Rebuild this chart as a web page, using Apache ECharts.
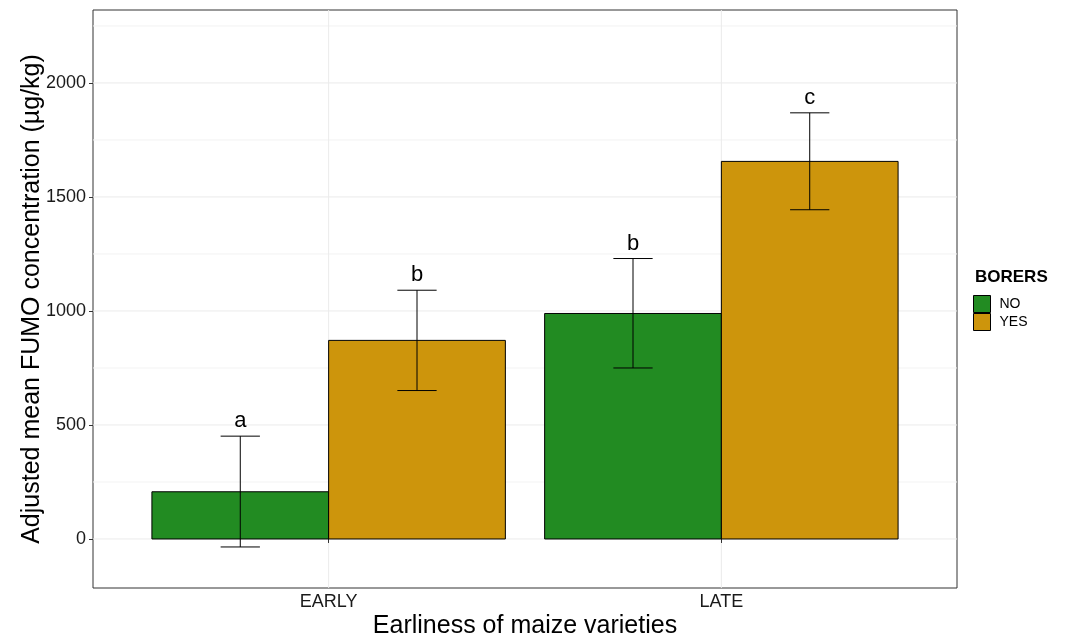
<!DOCTYPE html>
<html>
<head>
<meta charset="utf-8">
<title>FUMO concentration by earliness and borers</title>
<script src="https://cdn.jsdelivr.net/npm/echarts@6/dist/echarts.min.js"></script>
<style>
  html, body { margin: 0; padding: 0; background: #ffffff; }
  #chart { width: 1069px; height: 637px; }
</style>
</head>
<body>
<div id="chart"></div>
<script>
// Categories and groups
const categories = ['EARLY', 'LATE'];
const groups = ['NO', 'YES'];

// Adjusted means (µg/kg) per category, one array per borer group
const meanNO = [207, 989];
const meanYES = [871, 1656];

// Error bar limits
const lowerNO = [-35, 750];
const upperNO = [451, 1230];
const lowerYES = [651, 1444];
const upperYES = [1091, 1869];

// Significance letters
const lettersNO = ['a', 'b'];
const lettersYES = ['b', 'c'];

// Axis ticks
const yTicks = [0, 500, 1000, 1500, 2000];
const yMinorTicks = [250, 750, 1250, 1750, 2250];
const xTicks = [1, 2];

const colors = { NO: '#228B22', YES: '#CD950C' };
const FONT = '"Liberation Sans", Arial, Helvetica, sans-serif';

// dodge layout: each category occupies 0.9 units, split in two bars
const BAR_W = 0.45;
const CAP_W = 0.1;
const offsets = { NO: -BAR_W / 2, YES: BAR_W / 2 };

function barData(means, g) {
  return means.map((v, i) => [i + 1 + offsets[g], v]);
}
function errData(lo, hi, letters, g) {
  return lo.map((l, i) => [i + 1 + offsets[g], l, hi[i], letters[i]]);
}

function renderBar(params, api) {
  const x = api.value(0), v = api.value(1);
  const p0 = api.coord([x - BAR_W / 2, v]);
  const p1 = api.coord([x + BAR_W / 2, 0]);
  return {
    type: 'rect',
    shape: { x: p0[0], y: Math.min(p0[1], p1[1]), width: p1[0] - p0[0], height: Math.abs(p1[1] - p0[1]) },
    style: { fill: api.visual('color'), stroke: '#000', lineWidth: 1 }
  };
}

function renderErr(params, api) {
  const x = api.value(0), lo = api.value(1), hi = api.value(2);
  const top = api.coord([x, hi]);
  const bot = api.coord([x, lo]);
  const l = api.coord([x - CAP_W / 2, hi])[0];
  const r = api.coord([x + CAP_W / 2, hi])[0];
  const st = { stroke: '#000', lineWidth: 1 };
  return {
    type: 'group',
    children: [
      { type: 'line', shape: { x1: top[0], y1: top[1], x2: bot[0], y2: bot[1] }, style: st },
      { type: 'line', shape: { x1: l, y1: top[1], x2: r, y2: top[1] }, style: st },
      { type: 'line', shape: { x1: l, y1: bot[1], x2: r, y2: bot[1] }, style: st },
      {
        type: 'text',
        style: {
          text: api.value(3),
          x: top[0], y: top[1] - 4,
          align: 'center', verticalAlign: 'bottom',
          fill: '#000', font: '22px ' + FONT
        }
      }
    ]
  };
}

// background grid lines (major and minor), drawn beneath the bars
const gridLineData = []
  .concat(yTicks.map(v => ['h', v, 'major']))
  .concat(yMinorTicks.map(v => ['h', v, 'minor']))
  .concat(xTicks.map(v => ['v', v, 'major']));

function renderGridLine(params, api) {
  const cs = params.coordSys;
  const d = gridLineData[params.dataIndex];
  const col = d[2] === 'major' ? '#ebebeb' : '#f3f3f3';
  if (d[0] === 'h') {
    const y = api.coord([1, d[1]])[1];
    return { type: 'line', shape: { x1: cs.x, y1: y, x2: cs.x + cs.width, y2: y }, style: { stroke: col, lineWidth: 1 } };
  }
  const x = api.coord([d[1], 0])[0];
  return { type: 'line', shape: { x1: x, y1: cs.y, x2: x, y2: cs.y + cs.height }, style: { stroke: col, lineWidth: 1 } };
}

const chart = echarts.init(document.getElementById('chart'), null, { renderer: 'canvas' });

chart.setOption({
  animation: false,
  backgroundColor: '#ffffff',
  textStyle: { fontFamily: FONT },
  grid: {
    left: 93, top: 10, right: 112, bottom: 49,
    show: true, borderColor: '#333333', borderWidth: 1, backgroundColor: 'transparent',
    containLabel: false,
    outerBoundsMode: 'none'
  },
  xAxis: {
    type: 'value',
    min: 0.4, max: 2.6,
    name: 'Earliness of maize varieties',
    nameLocation: 'middle',
    nameGap: 26,
    nameMoveOverlap: false,
    nameTextStyle: { fontSize: 25, color: '#000', fontFamily: FONT },
    axisLine: { show: false },
    axisTick: { show: true, customValues: xTicks, length: 4, lineStyle: { color: '#333333' } },
    axisLabel: {
      customValues: xTicks,
      formatter: v => categories[Math.round(v) - 1] || '',
      fontSize: 18, color: '#1a1a1a', margin: 5, fontFamily: FONT
    },
    splitLine: { show: false }
  },
  yAxis: {
    type: 'value',
    min: -215, max: 2320,
    name: 'Adjusted mean FUMO concentration (µg/kg)',
    nameLocation: 'middle',
    nameRotate: 90,
    nameGap: 48,
    nameMoveOverlap: false,
    nameTextStyle: { fontSize: 25, color: '#000', fontFamily: FONT },
    axisLine: { show: false },
    axisTick: { show: true, customValues: yTicks, length: 4, lineStyle: { color: '#333333' } },
    axisLabel: {
      customValues: yTicks,
      formatter: v => String(v),
      fontSize: 18, color: '#1a1a1a', margin: 7, fontFamily: FONT
    },
    splitLine: { show: false }
  },
  legend: {
    data: groups,
    orient: 'vertical',
    left: 973, top: 295,
    padding: 0,
    itemWidth: 17, itemHeight: 17, itemGap: 0,
    icon: 'rect',
    itemStyle: { borderColor: '#000', borderWidth: 1 },
    textStyle: { fontSize: 14, color: '#000', fontFamily: FONT, padding: [0, 0, 0, 4] }
  },
  graphic: [{
    type: 'text',
    left: 975, top: 269,
    style: { text: 'BORERS', font: 'bold 17px ' + FONT, fill: '#000' }
  }],
  series: [
    {
      type: 'custom', name: 'grid', silent: true, z: 0,
      data: gridLineData.map((d, i) => [i]),
      renderItem: renderGridLine
    },
    {
      type: 'custom', name: 'NO', z: 2,
      itemStyle: { color: colors.NO, borderColor: '#000', borderWidth: 1 },
      encode: { x: 0, y: 1 },
      data: barData(meanNO, 'NO'),
      renderItem: renderBar
    },
    {
      type: 'custom', name: 'YES', z: 2,
      itemStyle: { color: colors.YES, borderColor: '#000', borderWidth: 1 },
      encode: { x: 0, y: 1 },
      data: barData(meanYES, 'YES'),
      renderItem: renderBar
    },
    {
      type: 'custom', name: 'err-NO', z: 3, silent: true,
      encode: { x: 0, y: [1, 2] },
      data: errData(lowerNO, upperNO, lettersNO, 'NO'),
      renderItem: renderErr
    },
    {
      type: 'custom', name: 'err-YES', z: 3, silent: true,
      encode: { x: 0, y: [1, 2] },
      data: errData(lowerYES, upperYES, lettersYES, 'YES'),
      renderItem: renderErr
    }
  ]
});
</script>
</body>
</html>
